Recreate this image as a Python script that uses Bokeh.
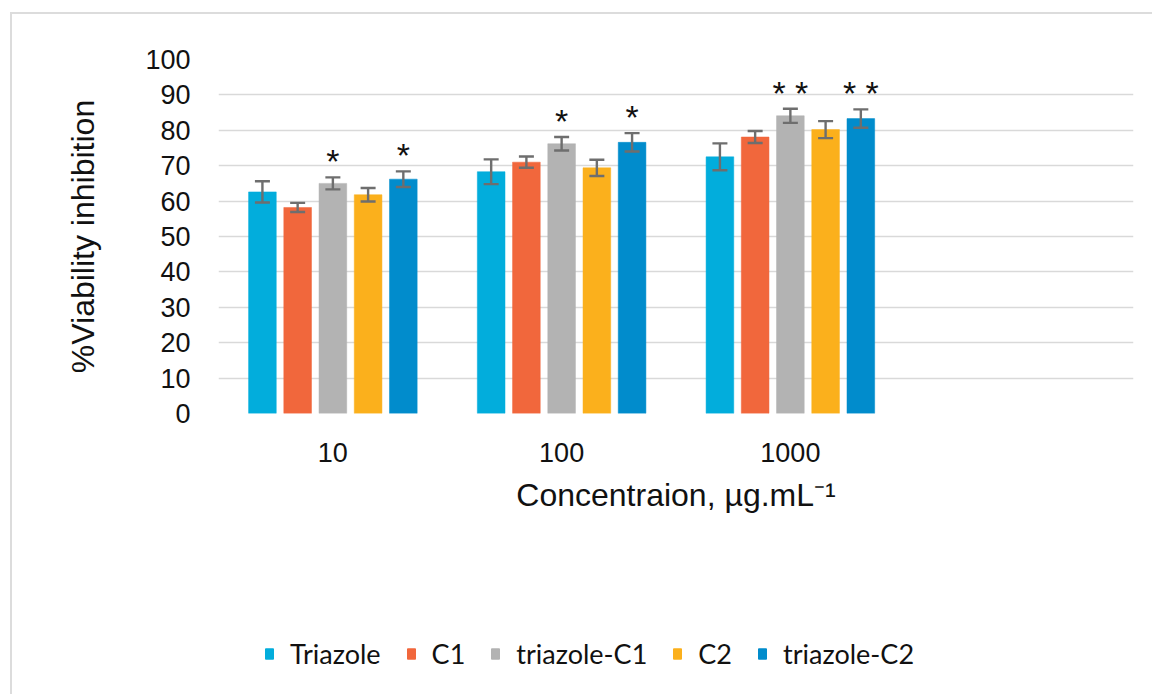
from bokeh.plotting import figure
from bokeh.layouts import column
from bokeh.models import (ColumnDataSource, Range1d, FixedTicker, Whisker, TeeHead,
                          Legend, LegendItem)
from bokeh.core.properties import value
from bokeh.embed import file_html
from bokeh.resources import INLINE

# ---- data ----
concentrations = ["10", "100", "1000"]
series_names = ["Triazole", "C1", "triazole-C1", "C2", "triazole-C2"]
colors = ["#02ADDC", "#F1673C", "#B3B3B3", "#FBB01C", "#018CCC"]

triazole = [62.6, 68.3, 72.5]
c1 = [58.2, 71.0, 78.1]
triazole_c1 = [65.0, 76.2, 84.1]
c2 = [61.8, 69.4, 80.2]
triazole_c2 = [66.2, 76.6, 83.3]

triazole_err = [3.0, 3.5, 3.8]
c1_err = [1.3, 1.6, 1.7]
triazole_c1_err = [1.7, 1.9, 2.0]
c2_err = [1.9, 2.3, 2.4]
triazole_c2_err = [2.2, 2.6, 2.6]

triazole_sig = ["", "", ""]
c1_sig = ["", "", ""]
triazole_c1_sig = ["*", "*", "* *"]
c2_sig = ["", "", ""]
triazole_c2_sig = ["*", "*", "* *"]

y_ticks = [0, 10, 20, 30, 40, 50, 60, 70, 80, 90, 100]

values_all = [triazole, c1, triazole_c1, c2, triazole_c2]
errs_all = [triazole_err, c1_err, triazole_c1_err, c2_err, triazole_c2_err]
sig_all = [triazole_sig, c1_sig, triazole_c1_sig, c2_sig, triazole_c2_sig]

# ---- layout constants ----
n_slots = 4          # Excel reserved an empty 4th category
pitch = 0.154
bar_w = 0.121

W = 1152
H_MAIN, H_LEG = 560, 134
BORDER = "#DCDCDC"
chart_border_main = {
    "background-image": f"linear-gradient({BORDER}, {BORDER}), linear-gradient({BORDER}, {BORDER})",
    "background-size": "100% 2px, 2px 100%",
    "background-position": "10px 12px, 10px 12px",
    "background-repeat": "no-repeat",
}
chart_border_leg = {
    "background-image": f"linear-gradient({BORDER}, {BORDER})",
    "background-size": "2px 100%",
    "background-position": "10px 0px",
    "background-repeat": "no-repeat",
}

p = figure(width=W, height=H_MAIN, output_backend="svg", toolbar_location=None,
           x_range=Range1d(0, n_slots), y_range=Range1d(0, 100),
           min_border_left=218, min_border_right=19,
           min_border_top=59, min_border_bottom=H_MAIN - 413,
           styles=chart_border_main)
p.outline_line_color = None
p.background_fill_color = "white"
p.border_fill_color = None

tick_font = "Liberation Sans"
label_color = "#111111"

# axes
p.xaxis.ticker = FixedTicker(ticks=[i + 0.5 for i in range(len(concentrations))])
p.xaxis.major_label_overrides = {i + 0.5: c for i, c in enumerate(concentrations)}
p.yaxis.ticker = FixedTicker(ticks=y_ticks)
for ax in (p.xaxis[0], p.yaxis[0]):
    ax.axis_line_color = None
    ax.major_tick_line_color = None
    ax.minor_tick_line_color = None
    ax.major_tick_out = 0
    ax.major_tick_in = 0
    ax.major_label_text_font = tick_font
    ax.major_label_text_font_size = "27px"
    ax.major_label_text_color = label_color
    ax.axis_label_text_font = tick_font
    ax.axis_label_text_font_size = "32px"
    ax.axis_label_text_font_style = "normal"
    ax.axis_label_text_color = label_color
p.xaxis.axis_label = "Concentraion, µg.mL⁻¹"
p.yaxis.axis_label = "%Viability inhibition"
p.xaxis.major_label_standoff = 29
p.xaxis.axis_label_standoff = 12
p.yaxis.major_label_standoff = 28
p.yaxis.axis_label_standoff = 41

p.xgrid.grid_line_color = None
p.ygrid.grid_line_color = "#D9D9D9"
p.ygrid.grid_line_width = 1.6

# legend strip (separate figure so the legend is not clipped by the frame)
lp = figure(width=W, height=H_LEG, output_backend="svg", toolbar_location=None,
            x_range=Range1d(0, n_slots), y_range=Range1d(0, 100),
            x_axis_type=None, y_axis_type=None, min_border=0,
            styles=chart_border_leg)
lp.outline_line_color = None
lp.xgrid.grid_line_color = None
lp.ygrid.grid_line_color = None
lp.background_fill_color = "white"
lp.border_fill_color = None

items = []
for k, (name, col, vals, errs, sigs) in enumerate(zip(series_names, colors, values_all, errs_all, sig_all)):
    xs = [i + 0.5 + (k - 2) * pitch for i in range(len(vals))]
    src = ColumnDataSource(dict(
        x=xs, top=vals,
        upper=[v + e for v, e in zip(vals, errs)],
        lower=[v - e for v, e in zip(vals, errs)],
        sig=sigs))
    p.vbar(x="x", top="top", width=bar_w, bottom=0, source=src,
           fill_color=col, line_color=col, line_width=0.5)
    wh = Whisker(source=src, base="x", upper="upper", lower="lower",
                 line_color="#6E6E6E", line_width=2.4, level="overlay",
                 upper_head=TeeHead(size=15, line_color="#6E6E6E", line_width=2.4),
                 lower_head=TeeHead(size=15, line_color="#6E6E6E", line_width=2.4))
    p.add_layout(wh)
    p.text(x="x", y="upper", text="sig", source=src, text_align="center",
           text_baseline="middle", y_offset=-16,
           text_font=value(tick_font), text_font_size="34px", text_color="#111111")
    # legend swatch renderer: same series, hidden, only its legend entry is shown
    lr = lp.vbar(x="x", top="top", width=bar_w, bottom=0, source=src,
                 fill_color=col, line_color=col, visible=False)
    items.append(LegendItem(label=name, renderers=[lr]))

legend = Legend(items=items, orientation="horizontal", location=(46, 24),
                label_text_font="Lato", label_text_font_size="27px",
                label_text_color="#111111", glyph_width=10, glyph_height=13,
                label_standoff=16, spacing=25, padding=0, margin=0,
                border_line_color=None, background_fill_alpha=0,
                inactive_fill_alpha=0, click_policy="none")
lp.add_layout(legend, "center")

layout = column(p, lp, spacing=0)
open("out.html", "w").write(file_html(layout, INLINE))
